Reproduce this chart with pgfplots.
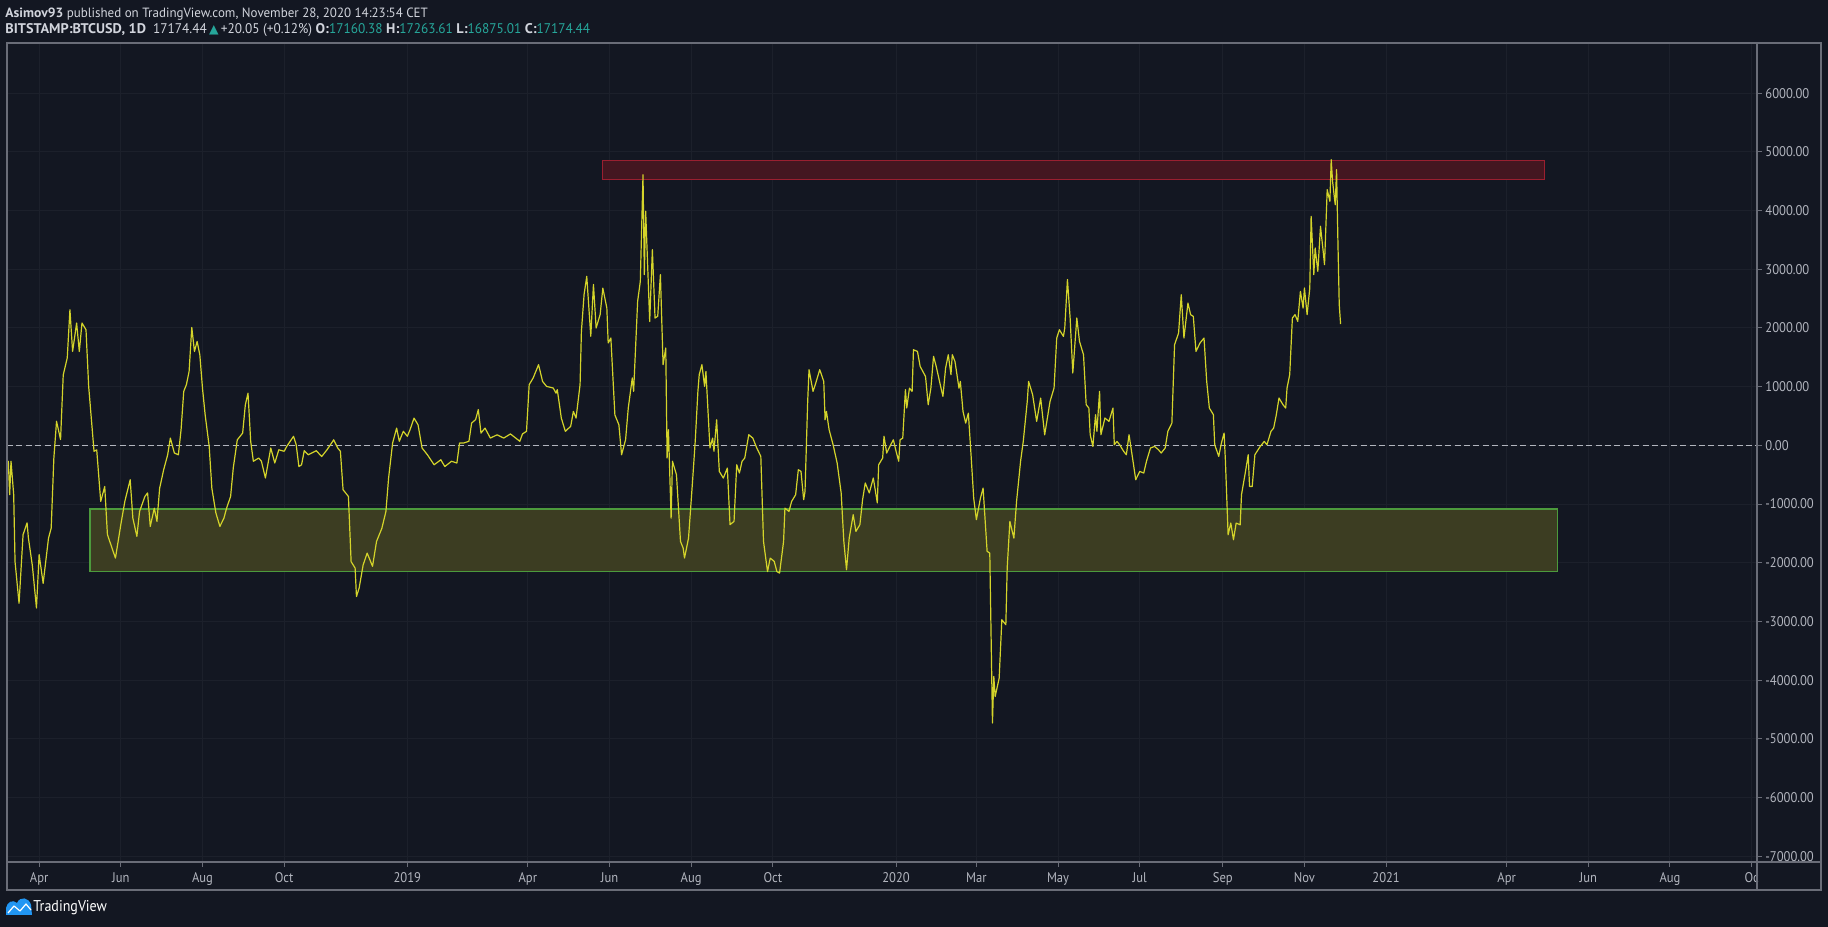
\documentclass[border=0pt]{standalone}
\usepackage{pgfplots}
\pgfplotsset{compat=1.18}
\usepackage{fontspec}
\setmainfont{PT Sans}[FakeStretch=0.9, BoldFeatures={FakeStretch=1.02}]
\newfontfamily\hdrA{PT Sans}[FakeStretch=0.97, BoldFeatures={FakeStretch=1.02}]
\newfontfamily\hdrB{PT Sans}[FakeStretch=0.95, BoldFeatures={FakeStretch=1.02}]
\newfontfamily\sym{DejaVu Sans}
\definecolor{bg}{HTML}{131722}
\definecolor{gridc}{HTML}{1C202B}
\definecolor{frame}{HTML}{6A6D78}
\definecolor{lab}{HTML}{B2B5BE}
\definecolor{txt}{HTML}{D1D4DC}
\definecolor{tvteal}{HTML}{26A69A}
\definecolor{tvblue}{HTML}{2196F3}
\definecolor{osc}{HTML}{D4D42A}
\definecolor{redf}{HTML}{441620}
\definecolor{redb}{HTML}{9A1F30}
\definecolor{grf}{HTML}{3C3D22}
\definecolor{grb}{HTML}{4C9A3C}
\begin{document}
\begin{tikzpicture}
\useasboundingbox (0,0) rectangle (914pt,463.5pt);
\fill[bg] (0,0) rectangle (914pt,463.5pt);
\begin{axis}[
  at={(3.5pt,32.5pt)}, anchor=south west,
  scale only axis, width=875pt, height=409.5pt,
  xmin=-299, xmax=1008, ymin=-7097, ymax=6855,
  axis background/.style={fill=bg},
  axis line style={draw=frame, line width=0.6pt},
  grid=major, major grid style={draw=gridc, line width=0.5pt},
  xtick={-275,-214,-153,-92,0,90,151,212,273,365,425,486,547,609,670,731,821,882,943,1004},
  xticklabels={Apr,Jun,Aug,Oct,2019,Apr,Jun,Aug,Oct,2020,Mar,May,Jul,Sep,Nov,2021,Apr,Jun,Aug,Oc},
  ytick={-7000,-6000,...,6000},
  scaled y ticks=false,
  xtick pos=lower, ytick pos=right, yticklabel pos=right,
  tick align=outside, major tick length=2.5pt,
  tick style={draw=frame, line width=0.5pt},
  ticklabel style={font=\fontsize{7}{8}\selectfont, text=lab},
  yticklabel style={anchor=west, inner sep=0pt, xshift=1.5pt, /pgf/number format/.cd, fixed, fixed zerofill, precision=2, 1000 sep={}, assume math mode=true},
  xticklabel style={anchor=mid, inner sep=0pt, yshift=-5.5pt},
]
\addplot[draw=grb, fill=grf, line width=0.6pt] coordinates {(-237,-1085) (859,-1085) (859,-2150) (-237,-2150)} --cycle;
\addplot[draw=redb, fill=redf, line width=0.6pt] coordinates {(146,4530) (849,4530) (849,4860) (146,4860)} --cycle;
\addplot[draw=lab, line width=0.5pt, dash pattern=on 3pt off 1.7pt] coordinates {(-299,0) (1008,0)};
\addplot[draw=osc, line width=0.6pt, line join=round] coordinates {
(-299,-330) (-298,-270) (-297,-840) (-296,-270) (-294,-840) (-293,-1980) (-290,-2690) (-287,-1520) (-284,-1320) (-283,-1580) (-280,-2060) (-277,-2770) (-275,-1860) (-272,-2350) (-268,-1580) (-266,-1410) (-264,-215) (-262,410) (-259,100) (-257,1200) (-254,1490) (-252,2310) (-250,1600) (-247,2085) (-245,1600) (-243,2085) (-240,1970) (-238,1005) (-234,-100) (-232,-75) (-229,-955) (-226,-700) (-224,-1520) (-218,-1920) (-214,-1350) (-211,-955) (-207,-585) (-205,-1240) (-202,-1550) (-200,-1125) (-196,-870) (-194,-810) (-192,-1380) (-189,-1070) (-187,-1295) (-185,-730) (-182,-415) (-179,-160) (-177,125) (-174,-130) (-171,-160) (-169,267) (-167,920) (-165,1035) (-163,1260) (-161,2010) (-159,1600) (-157,1770) (-155,1545) (-153,975) (-151,520) (-148,-15) (-146,-730) (-143,-1150) (-140,-1380) (-137,-1240) (-135,-1070) (-132,-870) (-130,-385) (-127,95) (-123,210) (-121,690) (-119,890) (-117,70) (-115,-270) (-111,-215) (-109,-270) (-106,-555)
(-102,-45) (-99,-300) (-96,-75) (-92,-100) (-90,-15) (-85,155) (-83,10) (-81,-360) (-79,-330) (-77,-90) (-74,-160) (-68,-90) (-64,-190) (-60,-75) (-55,95) (-52,-45) (-50,-100) (-48,-755) (-44,-870) (-42,-1980) (-39,-2090) (-38,-2575) (-36,-2430) (-33,-2035) (-30,-1835) (-26,-2060) (-23,-1635) (-19,-1410) (-16,-1125) (-14,-555) (-11,40) (-8,295) (-6,70) (-3,240) (0,155) (2,267) (5,465) (8,350) (11,-45) (15,-160) (20,-330) (25,-245) (28,-360) (33,-270) (37,-300) (39,40) (42,40) (46,70) (48,380) (51,440) (53,610) (55,210) (58,295) (62,125) (67,180) (72,125) (77,195) (84,70) (86,195) (89,240) (91,1035) (94,1150) (98,1375)
(101,1090) (104,1005) (109,977) (111,890) (112,950) (115,465) (118,240) (122,325) (124,580) (126,465) (129,1035) (130,1940) (132,2570) (134,2880) (137,1860) (139,2740) (141,2000) (144,2230) (146,2680) (149,2340) (150,1745) (152,1830) (155,520) (158,350) (160,-160) (163,97) (165,636) (168,1150) (169,920) (172,2455) (174,2795) (176,4610) (177,2910) (178,3990) (180,2740) (181,2110) (183,3335) (185,2170) (187,2200) (189,2910) (191,1375) (193,1660) (194,-215) (195,267) (197,-1240) (198,-270) (201,-500) (204,-1635) (206,-1750) (207,-1920) (210,-1580) (213,-615) (215,68) (217,920) (218,1205) (220,1375) (222,1005) (223,1260) (226,-45) (228,125) (229,-100) (231,437) (233,-443) (236,-557) (239,-386) (241,-1350) (244,-1295) (246,-330) (248,-470) (250,-270) (252,-215) (255,182) (258,125) (261,-45) (264,-187) (266,-1635) (269,-2150) (271,-1920) (274,-1975) (276,-2150) (278,-2175) (281,-1635) (282,-1070) (285,-1125) (287,-955) (290,-840) (292,-415) (294,-443) (296,-925) (297,-785) (299,750) (300,1290)
(303,920) (305,1060) (308,1290) (311,1090) (312,437) (313,580) (315,267) (318,10) (321,-300) (324,-810) (326,-1635) (328,-2120) (330,-1580) (333,-1180) (335,-1465) (338,-1350) (340,-925) (342,-640) (345,-810) (348,-555) (351,-980) (352,-330) (355,-215) (356,155) (358,-130) (361,10) (363,95) (365,-100) (367,-270) (368,95) (370,125) (372,950) (373,636) (375,975) (377,920) (378,1630) (381,1600) (383,1345) (387,1175) (389,693) (391,975) (393,1517) (395,1345) (398,1035) (400,835) (402,1318) (404,1545) (406,1205) (407,1545) (409,1430) (412,975) (413,1090) (415,580) (417,380) (419,550) (421,-160) (423,-900) (425,-1265) (428,-900) (430,-727) (433,-1805) (435,-1835)
(437,-4730) (438,-3935) (439,-4280) (442,-3965) (444,-2970) (447,-3055) (448,-2090) (450,-1295) (453,-1580) (455,-955) (458,-270) (460,68)
(463,750) (464,1090) (467,863) (470,409) (473,806) (476,180) (480,750) (483,977) (485,1830) (487,1970) (490,1857) (491,2000) (493,2825) (495,2170) (497,1233) (500,2170)
(502,1772) (505,1545) (507,693) (509,636) (510,182) (512,-17) (514,523) (515,239) (517,920) (518,182) (521,466) (524,409) (527,636) (528,11) (530,68) (532,11) (535,-102) (537,-159) (539,182) (542,-273) (544,-585) (547,-443) (550,-471) (552,-273) (555,-45) (558,-17) (561,-74) (563,-130) (566,-45) (568,239) (571,380) (573,1715) (576,1914) (578,2567) (580,1829) (583,2425) (585,2227) (587,2198) (589,1602) (592,1744) (595,1829) (597,1090) (599,636) (602,523) (603,11) (606,-187) (608,40) (610,210) (611,-273) (613,-1522) (615,-1323) (617,-1607) (619,-1323) (622,-1352) (623,-840) (626,-443) (628,-159) (629,-699) (631,-699) (633,-159) (637,-17) (640,68) (642,11) (645,239) (647,295) (649,523) (651,807) (654,693) (656,636) (657,977) (659,1204) (661,2170) (663,2227) (665,2113) (667,2624) (669,2340) (670,2681) (672,2227) (674,2681) (675,3902) (677,2908) (678,3363) (680,2965) (682,3732) (684,3306) (685,3079) (687,4357) (689,4158) (690,4868) (691,4499) (693,4101) (694,4697) (695,3476) (696,2397) (697,2068)
};
\end{axis}
\begin{scope}[x=0.5pt,y=-0.5pt,shift={(0pt,463.5pt)}]
\draw[frame, line width=0.6pt] (7,43) rectangle (1821,890);
\draw[frame, line width=0.6pt] (7,862) -- (1821,862);
\draw[frame, line width=0.6pt] (1757,43) -- (1757,890);
\node[anchor=west, inner sep=0pt, text=txt, font=\hdrA\fontsize{6.7}{8}\selectfont] at (5,14)
  {{\bfseries Asimov93} published on TradingView.com, November 28, 2020 14:23:54 CET};
\node[anchor=west, inner sep=0pt, text=txt, font=\hdrB\fontsize{7}{8}\selectfont] at (5,30)
  {{\bfseries BITSTAMP:BTCUSD, 1D}\ \ 17174.44\,{\color{tvteal}\sym\fontsize{6.2}{7}\selectfont ▲}\,+20.05 (+0.12\%)\ {\bfseries O:}{\color{tvteal}17160.38}\ {\bfseries H:}{\color{tvteal}17263.61}\ {\bfseries L:}{\color{tvteal}16875.01}\ {\bfseries C:}{\color{tvteal}17174.44}};
\fill[tvblue] (6,915) -- (6,908) .. controls (7,902) and (13,899) .. (17,903) .. controls (20,896) and (29,897) .. (31,905) -- (32,915) -- cycle;
\draw[white, line width=0.6pt, line join=round] (8,913) -- (14,906) -- (20,911) -- (26,904) -- (31,910);
\node[anchor=west, inner sep=0pt, text=white, font=\fontsize{7.8}{9}\selectfont] at (33,908) {TradingView};
\end{scope}
\end{tikzpicture}
\end{document}
